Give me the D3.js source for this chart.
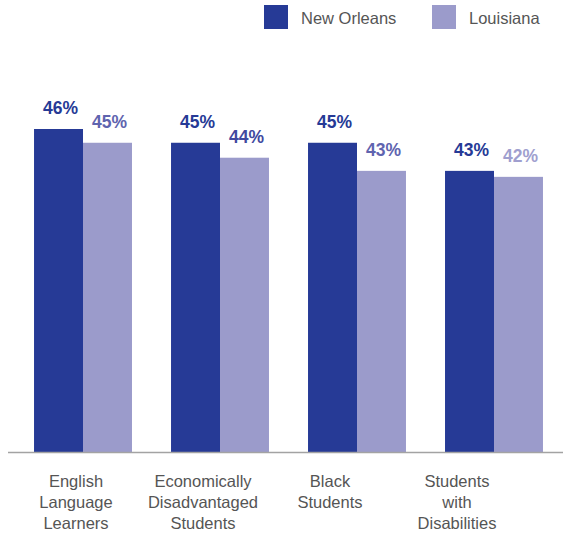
<!DOCTYPE html>
<html>
<head>
<meta charset="utf-8">
<script src="https://cdn.jsdelivr.net/npm/d3@7"></script>
<style>
  body { margin: 0; background: #fff; }
  svg { display: block; font-family: 'Liberation Sans', Arial, sans-serif; }
</style>
</head>
<body>
<div id="chart"></div>
<script>
'use strict';

// chart data
const categories = [
  ['English', 'Language', 'Learners'],
  ['Economically', 'Disadvantaged', 'Students'],
  ['Black', 'Students'],
  ['Students', 'with', 'Disabilities']
];
const seriesNames = ['New Orleans', 'Louisiana'];
const newOrleans = [46.0, 44.85, 44.85, 42.5];
const louisiana = [44.85, 43.6, 42.5, 42.0];

const colors = ['#263a96', '#9b9bcb'];
// label colour for each Louisiana value (differs in the source)
const louisianaLabelColors = ['#5f64af', '#41499f', '#5f64af', '#a09fcf'];

(function() {
  const width = 563;
  const height = 533;
  const baseY = 452;

  const svg = d3
    .select('#chart')
    .append('svg')
    .attr('width', width)
    .attr('height', height);

  const groups = d3.range(categories.length);

  // outer band for groups of bars
  const x0 = d3
    .scaleBand()
    .domain(groups)
    .range([8, 569])
    .paddingInner(0.285)
    .paddingOuter(0.19);

  // inner band for the two series
  const x1 = d3
    .scaleBand()
    .domain([0, 1])
    .range([0, x0.bandwidth()]);

  // the source axis does not start at zero
  const y = d3
    .scaleLinear()
    .domain([19, 46])
    .range([baseY, 129]);

  // separate band for the category labels (they sit left of the bars)
  const xLabel = d3
    .scaleBand()
    .domain(groups)
    .range([12.5, 520.5]);

  const rows = groups.map(i => [newOrleans[i], louisiana[i]]);

  // bars
  const g = svg
    .selectAll('.group')
    .data(rows)
    .enter()
    .append('g')
    .attr('class', 'group')
    .attr('transform', (d, i) => 'translate(' + x0(i) + ',0)');

  g.selectAll('rect')
    .data(d => d)
    .enter()
    .append('rect')
    .attr('x', (d, j) => x1(j))
    .attr('y', d => y(d))
    .attr('width', x1.bandwidth())
    .attr('height', d => baseY - y(d))
    .attr('fill', (d, j) => colors[j]);

  // value labels
  g.each(function(d, i) {
    d3.select(this)
      .selectAll('text')
      .data(d)
      .enter()
      .append('text')
      .attr('x', (v, j) => x1(j) + x1.bandwidth() / 2 + 2)
      .attr('y', v => y(v) - 15)
      .attr('text-anchor', 'middle')
      .style('font-size', '17.5px')
      .style('font-weight', 'bold')
      .attr('fill', (v, j) => (j === 0 ? colors[0] : louisianaLabelColors[i]))
      .text(v => Math.round(v) + '%');
  });

  // baseline
  svg
    .append('line')
    .attr('x1', 8)
    .attr('x2', width)
    .attr('y1', baseY + 0.5)
    .attr('y2', baseY + 0.5)
    .attr('stroke', '#a3a3a3')
    .attr('stroke-width', 1.5);

  // category labels
  const cat = svg
    .selectAll('.cat')
    .data(categories)
    .enter()
    .append('text')
    .attr('class', 'cat')
    .attr('text-anchor', 'middle')
    .attr('fill', '#555')
    .style('font-size', '16.5px');

  cat
    .selectAll('tspan')
    .data((d, i) => d.map(line => ({ line, i })))
    .enter()
    .append('tspan')
    .attr('x', d => xLabel(d.i) + xLabel.bandwidth() / 2)
    .attr('y', (d, k) => 487 + k * 21)
    .text(d => d.line);

  // legend
  const legendX = [264, 432];
  const legend = svg
    .selectAll('.legend')
    .data(seriesNames)
    .enter()
    .append('g')
    .attr('class', 'legend')
    .attr('transform', (d, i) => 'translate(' + legendX[i] + ',5)');

  legend
    .append('rect')
    .attr('width', 24)
    .attr('height', 24)
    .attr('fill', (d, i) => colors[i]);

  legend
    .append('text')
    .attr('x', 37)
    .attr('y', 19)
    .attr('fill', '#555')
    .style('font-size', '16.5px')
    .text(d => d);
})();
</script>
</body>
</html>
